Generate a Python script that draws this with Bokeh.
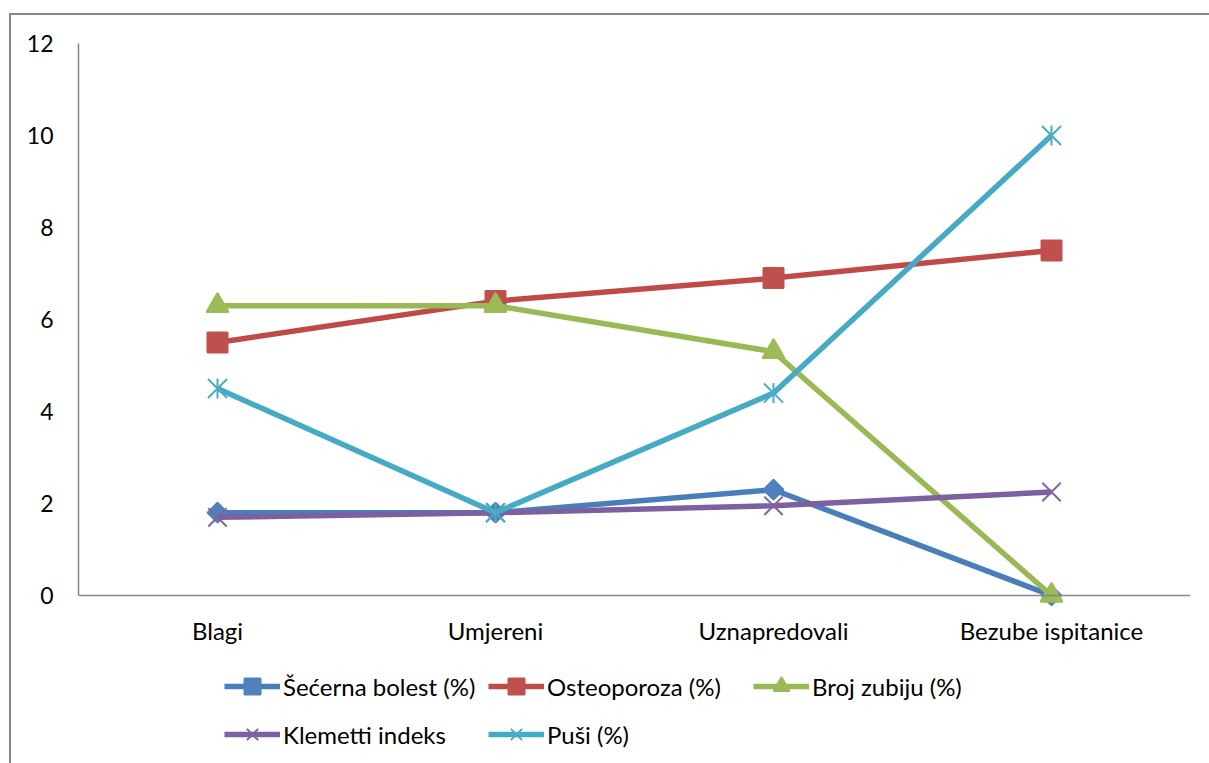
import numpy as np
from bokeh.plotting import figure
from bokeh.models import (Range1d, FactorRange, FixedTicker, Legend, LegendItem,
                          ColumnDataSource)
from bokeh.embed import file_html
from bokeh.resources import INLINE

categories = ["Blagi", "Umjereni", "Uznapredovali", "Bezube ispitanice"]
secerna = [1.8, 1.8, 2.3, 0.0]
osteoporoza = [5.5, 6.4, 6.9, 7.5]
broj_zubiju = [6.3, 6.3, 5.3, 0.0]
klemetti = [1.7, 1.8, 1.95, 2.25]
pusi = [4.5, 1.8, 4.4, 10.0]
series_names = ["Šećerna bolest (%)", "Osteoporoza (%)", "Broj zubiju (%)",
                "Klemetti indeks", "Puši (%)"]
y_ticks = [0, 2, 4, 6, 8, 10, 12]

FONT = "Lato"
GRAY = "#868686"

W, H = 1209, 763
TOP, BOTTOM, LEFT, RIGHT = 43, 8, 78, 19
ZERO_PX = 595                      # pixel row of y = 0 in the reference
px_per_unit = (ZERO_PX - TOP) / 12.0
frame_h = H - TOP - BOTTOM
y_start = 12 - frame_h / px_per_unit   # extend range below 0 to leave room for legend

p = figure(width=W, height=H, x_range=FactorRange(*categories),
           y_range=Range1d(y_start, 12), output_backend="svg",
           toolbar_location=None,
           min_border_left=LEFT, min_border_right=RIGHT, min_border_top=TOP,
           min_border_bottom=BOTTOM)
p.outline_line_color = None
p.border_fill_color = None
p.background_fill_color = None
p.xgrid.grid_line_color = None
p.ygrid.grid_line_color = None
# outer chart border (top and left edges visible in the reference)
p.styles = {
    "background-image": "linear-gradient(#868686,#868686), linear-gradient(#868686,#868686)",
    "background-size": "100% 2px, 2px 100%",
    "background-position": "9px 13px, 9px 13px",
    "background-repeat": "no-repeat",
}

for ax in (p.xaxis[0], p.yaxis[0]):
    ax.axis_line_color = GRAY
    ax.axis_line_width = 1.5
    ax.major_tick_line_color = None
    ax.minor_tick_line_color = None
    ax.major_tick_out = 0
    ax.major_tick_in = 0
    ax.major_label_text_font = FONT
    ax.major_label_text_color = "black"
p.xaxis.major_label_text_font_size = "24px"
p.yaxis.major_label_text_font_size = "23px"
p.yaxis.ticker = FixedTicker(ticks=y_ticks)
p.yaxis.bounds = (0, 12)
p.yaxis.major_label_standoff = 25
p.xaxis.fixed_location = 0
p.xaxis.major_label_standoff = 20

src = ColumnDataSource(dict(cat=categories, s=secerna, o=osteoporoza,
                            b=broj_zubiju, k=klemetti, p=pusi))

specs = [
    ("s", "#4A7EBB", "#4F81BD", [dict(marker="square", size=14, angle=np.pi / 4)]),
    ("o", "#BE4B48", "#C0504D", [dict(marker="square", size=20, angle=0)]),
    ("b", "#98B954", "#9BBB59", [dict(marker="triangle", size=22, angle=0)]),
    ("k", "#7D60A0", "#8064A2", [dict(marker="x", size=26, angle=0)]),
    ("p", "#46AAC5", "#4BACC6", [dict(marker="x", size=27, angle=0),
                                 dict(marker="dash", size=20, angle=np.pi / 2)]),
]

items = []
for (col, lc, mc, markers), name in zip(specs, series_names):
    rs = [p.line("cat", col, source=src, line_color=lc, line_width=5.5,
                 line_join="round")]
    for m in markers:
        rs.append(p.scatter("cat", col, source=src, marker=m["marker"],
                            size=m["size"], angle=m["angle"], fill_color=mc,
                            line_color=mc, line_width=2))
    items.append(LegendItem(label=name, renderers=rs))

# legend item positions (frame-relative bottom-left corners, pixels)
locs = [(146, 49), (410, 49), (675, 49), (146, 1), (410, 1)]
for it, loc in zip(items, locs):
    lg = Legend(items=[it], location=loc, border_line_color=None,
                background_fill_alpha=0, padding=0, margin=0, spacing=0,
                glyph_width=56, glyph_height=40, label_height=40,
                label_standoff=3, label_text_font=FONT,
                label_text_font_size="24px", label_text_color="black",
                label_text_baseline="middle")
    p.add_layout(lg, "center")

open("out.html", "w").write(file_html(p, INLINE))
